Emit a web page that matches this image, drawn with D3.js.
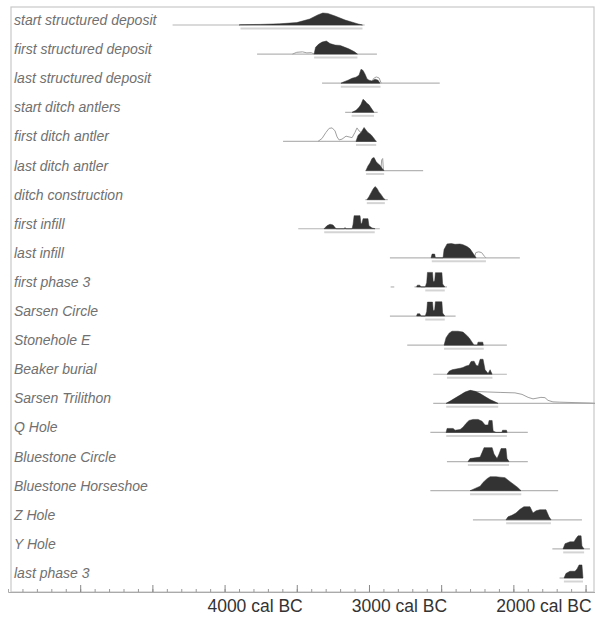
<!DOCTYPE html>
<html>
<head>
<meta charset="utf-8">
<script src="https://cdn.jsdelivr.net/npm/d3@7/dist/d3.min.js"></script>
<style>
  html, body { margin: 0; padding: 0; background: #fff; }
  svg { display: block; }
</style>
</head>
<body>
<svg id="chart" width="595" height="617"></svg>
<script>
// Row names, top to bottom
const labels = [
  "start structured deposit", "first structured deposit", "last structured deposit",
  "start ditch antlers", "first ditch antler", "last ditch antler", "ditch construction",
  "first infill", "last infill", "first phase 3", "Sarsen Circle", "Stonehole E",
  "Beaker burial", "Sarsen Trilithon", "Q Hole", "Bluestone Circle",
  "Bluestone Horseshoe", "Z Hole", "Y Hole", "last phase 3"
];

// Extent of the thin prior line for each row (years cal BC); some rows have two pieces
const priorLines = [
  [[4860, 3530]], [[4275, 3445]], [[3825, 3010]], [[3665, 3440]], [[4095, 3445]],
  [[3525, 3125]], [[3525, 3370]], [[3990, 3425]], [[3355, 2455]],
  [[3350, 3325], [3185, 2960]], [[3355, 2900]], [[3235, 2545]], [[3055, 2545]],
  [[3055, 1930]], [[3075, 2400]], [[2960, 2400]], [[3075, 2190]], [[2780, 2025]],
  [[2230, 1970]], [[2180, 2018]]
];

// Highest-density range bar drawn under each posterior (years cal BC)
const hpdRanges = [
  [4390, 3545], [3880, 3580], [3695, 3420], [3620, 3465], [3590, 3450], [3520, 3395],
  [3515, 3390], [3810, 3460], [3065, 2690], [3110, 2975], [3110, 2975], [2980, 2705],
  [2960, 2645], [2965, 2605], [2965, 2545], [2815, 2530], [2800, 2445], [2550, 2240],
  [2155, 2010], [2150, 2018]
];

// Modelled (posterior) densities: [year cal BC, relative probability]
const posteriors = [
  [[4400,0],[4390,0.02],[4250,0.04],[4120,0.08],[4000,0.16],[3910,0.4],[3855,0.67],[3820,0.8],
   [3785,0.77],[3735,0.6],[3665,0.33],[3620,0.2],[3575,0.07],[3545,0]],
  [[3880,0],[3870,0.45],[3850,0.65],[3825,0.8],[3795,0.87],[3770,0.7],[3735,0.6],[3700,0.58],
   [3680,0.5],[3640,0.35],[3600,0.15],[3580,0]],
  [[3694,0],[3680,0.07],[3645,0.2],[3617,0.33],[3590,0.4],[3569,0.53],[3555,0.93],[3541,0.85],
   [3527,0.6],[3514,0.3],[3500,0.2],[3479,0.15],[3458,0.27],[3437,0.2],[3424,0]],
  [[3617,0],[3590,0.13],[3569,0.33],[3555,0.53],[3541,0.87],[3527,0.75],[3514,0.6],[3500,0.5],
   [3486,0.3],[3472,0.1],[3465,0]],
  [[3590,0],[3576,0.4],[3555,0.6],[3534,0.93],[3520,0.75],[3507,0.6],[3486,0.45],[3465,0.2],[3451,0]],
  [[3521,0],[3507,0.3],[3493,0.5],[3479,0.8],[3465,0.87],[3451,0.6],[3437,0.45],[3424,0.35],
   [3410,0.15],[3396,0]],
  [[3514,0],[3500,0.2],[3486,0.45],[3472,0.7],[3458,0.87],[3444,0.75],[3430,0.5],[3417,0.35],
   [3403,0.15],[3389,0]],
  [[3811,0],[3791,0.2],[3770,0.3],[3749,0.25],[3728,0],[3670,0],[3666,0.08],[3660,0],
   [3617,0],[3610,0.3],[3603,0.87],[3562,0.87],[3555,0.3],[3548,0.4],[3541,0.67],[3507,0.67],
   [3500,0.2],[3479,0.05],[3458,0]],
  [[3070,0],[3063,0.25],[3045,0.25],[3040,0],[2987,0],[2980,0.55],[2959,0.93],[2930,0.95],
   [2904,0.9],[2870,0.92],[2849,0.88],[2821,0.75],[2800,0.6],[2779,0.3],[2758,0]],
  [[3170,0],[3165,0.12],[3148,0.12],[3140,0],[3110,0],[3100,0.3],[3095,0.97],[3060,0.97],
   [3055,0.35],[3045,0.4],[3040,0.95],[2995,0.95],[2990,0.2],[2975,0]],
  [[3170,0],[3165,0.15],[3148,0.15],[3140,0],[3110,0],[3100,0.3],[3095,0.93],[3060,0.93],
   [3055,0.35],[3045,0.4],[3040,0.95],[2995,0.95],[2990,0.2],[2975,0]],
  [[2980,0],[2966,0.5],[2945,0.8],[2925,0.93],[2883,0.93],[2849,0.87],[2828,0.7],[2807,0.5],
   [2786,0.2],[2772,0],[2750,0],[2745,0.2],[2712,0.2],[2708,0]],
  [[2959,0],[2945,0.2],[2924,0.3],[2897,0.35],[2869,0.4],[2849,0.45],[2828,0.55],[2807,0.6],
   [2793,0.85],[2772,0.87],[2758,0.6],[2744,0.55],[2730,1.0],[2710,1.0],[2696,0.3],[2675,0.05],
   [2661,0.3],[2647,0]],
  [[2966,0],[2938,0.15],[2904,0.35],[2869,0.55],[2835,0.75],[2800,0.87],[2765,0.8],[2730,0.65],
   [2696,0.45],[2661,0.25],[2627,0.1],[2606,0]],
  [[2966,0],[2959,0.27],[2917,0.27],[2904,0.15],[2869,0.2],[2849,0.35],[2828,0.6],[2807,0.8],
   [2779,0.87],[2744,0.87],[2717,0.75],[2696,0.5],[2675,0.5],[2668,0.8],[2647,0.8],[2640,0.1],
   [2620,0],[2580,0],[2575,0.15],[2548,0.15],[2543,0]],
  [[2814,0],[2800,0.2],[2765,0.25],[2730,0.3],[2717,0.6],[2703,0.93],[2647,0.93],[2634,0.5],
   [2613,0.2],[2599,0.5],[2585,0.87],[2551,0.87],[2544,0.2],[2530,0]],
  [[2800,0],[2765,0.15],[2730,0.3],[2710,0.55],[2682,0.8],[2661,0.93],[2620,0.93],[2592,0.9],
   [2558,0.87],[2523,0.6],[2495,0.4],[2468,0.2],[2447,0]],
  [[2551,0],[2537,0.2],[2510,0.3],[2482,0.45],[2454,0.7],[2427,0.87],[2385,0.87],[2364,0.45],
   [2343,0.6],[2316,0.67],[2274,0.67],[2253,0.2],[2239,0]],
  [[2156,0],[2142,0.35],[2108,0.47],[2080,0.47],[2066,0.7],[2052,0.87],[2031,0.87],[2025,0.2],[2011,0]],
  [[2149,0],[2136,0.3],[2108,0.45],[2073,0.45],[2059,0.6],[2045,0.87],[2025,0.87],[2018,0]]
];

// Unmodelled (likelihood) densities shown as outlines, where they differ from the posterior
const likelihoods = [
  null,
  [[4030,0],[4000,0.12],[3960,0.15],[3930,0.08],[3900,0.1],[3880,0]],
  [[3480,0],[3470,0.3],[3450,0.42],[3430,0.35],[3415,0]],
  null,
  [[3853,0],[3825,0.2],[3798,0.6],[3776,0.87],[3755,0.9],[3735,0.7],[3721,0.3],[3707,0.1],
   [3687,0.15],[3659,0.35],[3638,0.3],[3617,0.25],[3597,0.6],[3583,0.9],[3569,0.7],[3555,0.6]],
  [[3418,0],[3412,0.7],[3405,0.8],[3400,0]],
  null,
  null,
  [[2770,0],[2760,0.35],[2740,0.4],[2720,0.35],[2700,0.1],[2690,0]],
  null,
  null,
  null,
  null,
  [[2800,0.87],[2780,0.8],[2682,0.76],[2592,0.73],[2489,0.7],[2440,0.6],[2398,0.4],[2364,0.3],
   [2336,0.35],[2309,0.4],[2281,0.38],[2260,0.2],[2226,0.1],[2178,0.08],[2073,0.05],[1969,0.02],[1935,0]],
  null, null, null, null, null, null
];

// Axis: labelled every 1000 years, major ticks every 500, minor every 100
const tickLabels = [4000, 3000, 2000];
const majorTicks = [5500, 5000, 4500, 4000, 3500, 3000, 2500, 2000];
const minorTicks = d3.range(5900, 1999, -100);

const svg = d3.select("#chart");

const x = d3.scaleLinear().domain([6000, 1900]).range([8, 600]);
const y = d3.scaleLinear().domain([0, labels.length - 1]).range([25, 578]);
const h = d3.scaleLinear().domain([0, 1]).range([0, 15]);

// frame
svg.append("rect")
  .attr("x", 11).attr("y", 7).attr("width", 583).attr("height", 585)
  .attr("fill", "none").attr("stroke", "#c8c8c8").attr("stroke-width", 1.2);

// ticks pointing up from the bottom edge
svg.append("g")
  .attr("transform", "translate(0,592)")
  .call(d3.axisTop(x).tickValues(minorTicks).tickSize(3).tickFormat(""))
  .call(g => g.select(".domain").attr("stroke", "#aaa"))
  .call(g => g.selectAll(".tick line").attr("stroke", "#999"));

svg.append("g")
  .attr("transform", "translate(0,592)")
  .call(d3.axisTop(x).tickValues(majorTicks).tickSize(7).tickFormat(""))
  .call(g => g.select(".domain").remove())
  .call(g => g.selectAll(".tick line").attr("stroke", "#888"));

svg.append("g").selectAll("text")
  .data(tickLabels)
  .join("text")
  .attr("x", d => x(d) + 6)
  .attr("y", 612)
  .attr("text-anchor", "end")
  .attr("font-family", "'Liberation Sans', Arial, sans-serif")
  .attr("font-size", 17.5)
  .attr("fill", "#333")
  .text(d => `${d} cal BC`);

// row labels
svg.append("g").selectAll("text")
  .data(labels)
  .join("text")
  .attr("x", 14)
  .attr("y", (d, i) => y(i))
  .attr("font-family", "'Liberation Sans', Arial, sans-serif")
  .attr("font-style", "italic")
  .attr("font-size", 14)
  .attr("fill", "#707070")
  .text(d => d);

const rows = svg.append("g");

labels.forEach((name, i) => {
  const base = y(i);
  const g = rows.append("g");

  // prior line
  priorLines[i].forEach(seg => {
    g.append("line")
      .attr("x1", x(seg[0])).attr("x2", x(seg[1]))
      .attr("y1", base).attr("y2", base)
      .attr("stroke", "#b5b5b5").attr("stroke-width", 1.2);
  });

  // range bar beneath
  g.append("line")
    .attr("x1", x(hpdRanges[i][0])).attr("x2", x(hpdRanges[i][1]))
    .attr("y1", base + 3.5).attr("y2", base + 3.5)
    .attr("stroke", "#d4d4d4").attr("stroke-width", 2);

  const area = d3.area()
    .x(d => x(d[0]))
    .y0(base)
    .y1(d => base - h(d[1]));

  // likelihood outline
  if (likelihoods[i]) {
    const line = d3.line().x(d => x(d[0])).y(d => base - h(d[1]));
    g.append("path")
      .attr("d", line(likelihoods[i]))
      .attr("fill", "none")
      .attr("stroke", "#a0a0a0")
      .attr("stroke-width", 1);
  }

  // posterior
  g.append("path")
    .attr("d", area(posteriors[i]))
    .attr("fill", "#333")
    .attr("stroke", "#333")
    .attr("stroke-width", 0.5);
});
</script>
</body>
</html>
